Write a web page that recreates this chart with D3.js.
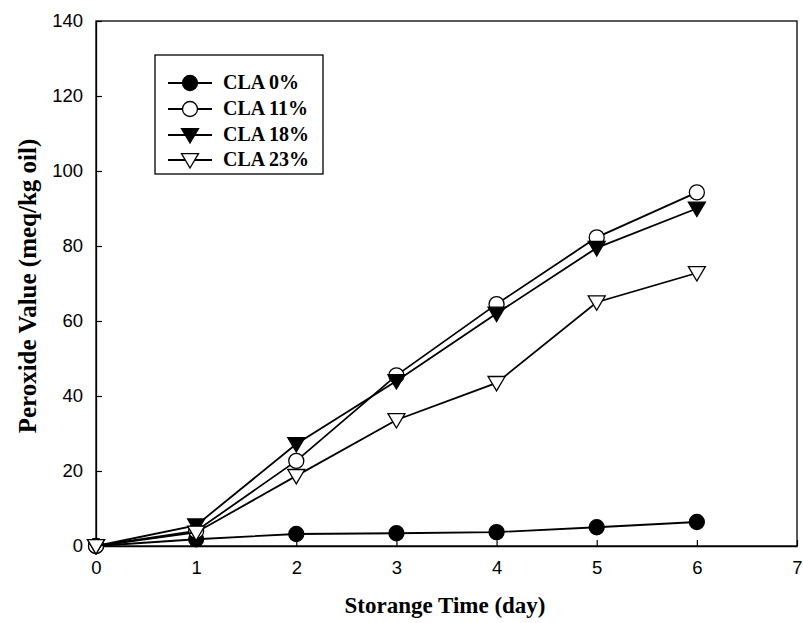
<!DOCTYPE html>
<html><head><meta charset="utf-8">
<script src="https://cdn.jsdelivr.net/npm/d3@7"></script>
<style>body{margin:0;background:#fff}</style>
</head><body>
<svg id="c" width="803" height="623"></svg>
<script>
const days = [0, 1, 2, 3, 4, 5, 6];
const seriesNames = ["CLA 0%", "CLA 11%", "CLA 18%", "CLA 23%"];
const cla0 = [0, 1.8, 3.2, 3.4, 3.7, 5.0, 6.4];
const cla11 = [0, 4.0, 22.7, 45.5, 64.5, 82.3, 94.3];
const cla18 = [0, 5.5, 27.2, 44.0, 62.0, 79.5, 90.0];
const cla23 = [0, 3.6, 18.7, 33.6, 43.5, 65.0, 72.8];
const xTicks = [0, 1, 2, 3, 4, 5, 6, 7];
const yTicks = [0, 20, 40, 60, 80, 100, 120, 140];
const markers = ["circleFilled", "circleOpen", "triDownFilled", "triDownOpen"];

const svg = d3.select("#c");
const L = 96, R = 797, T = 21, B = 546;
const x = d3.scaleLinear().domain([0, 7]).range([L, R]);
const y = d3.scaleLinear().domain([0, 140]).range([B, T]);

// frame
svg.append("rect").attr("x", L).attr("y", T).attr("width", R - L).attr("height", B - T)
  .attr("fill", "none").attr("stroke", "#000").attr("stroke-width", 1.3);

const fontSans = "Arial, 'Liberation Sans', sans-serif";
const fontSerif = "'Times New Roman', 'Liberation Serif', serif";

const xAxis = svg.append("g").attr("transform", `translate(0,${B})`)
  .call(d3.axisBottom(x).tickValues(xTicks).tickFormat(d3.format("d")).tickSizeInner(-6).tickSizeOuter(0).tickPadding(15));
const yAxis = svg.append("g").attr("transform", `translate(${L},0)`)
  .call(d3.axisLeft(y).tickValues(yTicks).tickFormat(d3.format("d")).tickSizeInner(-6).tickSizeOuter(0).tickPadding(13));
[xAxis, yAxis].forEach(a => {
  a.select(".domain").attr("stroke", "#000").attr("stroke-width", 1.3);
  a.selectAll(".tick line").attr("stroke", "#000").attr("stroke-width", 1.2);
  a.selectAll("text").attr("font-family", fontSans).attr("font-size", 18.5).attr("fill", "#000");
});

// titles
svg.append("text").attr("x", 445).attr("y", 613).attr("text-anchor", "middle")
  .attr("font-family", fontSerif).attr("font-weight", "bold").attr("font-size", 23)
  .text("Storange Time (day)");
svg.append("text").attr("transform", `translate(36,286) rotate(-90)`).attr("text-anchor", "middle")
  .attr("font-family", fontSerif).attr("font-weight", "bold").attr("font-size", 25)
  .text("Peroxide Value (meq/kg oil)");

const allSeries = [cla0, cla11, cla18, cla23];
const line = d3.line().x((d, i) => x(days[i])).y(d => y(d));

function drawMarker(g, type, cx, cy) {
  const filled = type.endsWith("Filled");
  const fill = filled ? "#000" : "#fff";
  if (type.startsWith("circle")) {
    g.append("circle").attr("cx", cx).attr("cy", cy).attr("r", 7.5)
      .attr("fill", fill).attr("stroke", "#000").attr("stroke-width", 1.3);
  } else {
    const s = 8.5;
    g.append("path").attr("d", `M${cx - s},${cy - s * 0.75}L${cx + s},${cy - s * 0.75}L${cx},${cy + s * 0.95}Z`)
      .attr("fill", fill).attr("stroke", "#000").attr("stroke-width", 1.3);
  }
}

allSeries.forEach((vals, si) => {
  const g = svg.append("g");
  g.append("path").datum(vals).attr("d", line).attr("fill", "none")
    .attr("stroke", "#000").attr("stroke-width", 1.8);
  vals.forEach((v, i) => drawMarker(g, markers[si], x(days[i]), y(v)));
});

// legend
const lg = svg.append("g");
lg.append("rect").attr("x", 155).attr("y", 55).attr("width", 168).attr("height", 119)
  .attr("fill", "#fff").attr("stroke", "#000").attr("stroke-width", 1.3);
const rowY = [83, 109, 135, 160];
seriesNames.forEach((name, i) => {
  const ry = rowY[i];
  lg.append("line").attr("x1", 168).attr("x2", 212).attr("y1", ry).attr("y2", ry)
    .attr("stroke", "#000").attr("stroke-width", 1.8);
  drawMarker(lg, markers[i], 190, ry);
  lg.append("text").attr("x", 223).attr("y", ry + 6)
    .attr("font-family", fontSerif).attr("font-weight", "bold").attr("font-size", 20)
    .text(name);
});
</script>
</body></html>
